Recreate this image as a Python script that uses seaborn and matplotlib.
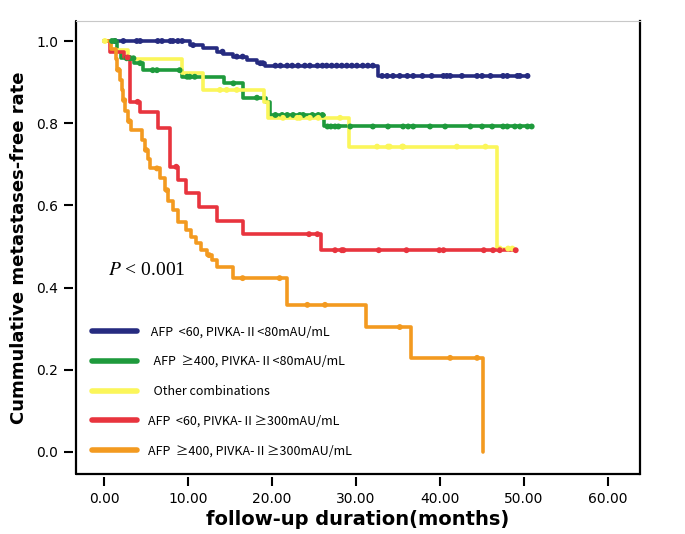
import numpy as np
import pandas as pd
import matplotlib.pyplot as plt
import seaborn as sns
from matplotlib.lines import Line2D

sns.set_style('white')
plt.rcParams['font.family'] = ['DejaVu Sans']
plt.rcParams['mathtext.fontset'] = 'stix'
plt.rcParams.update({'text.color': 'black', 'axes.labelcolor': 'black',
                     'xtick.color': 'black', 'ytick.color': 'black'})

# Kaplan-Meier steps: event times (months), survival after event, censor times
blue_t = [10.2, 11.8, 13.4, 14.2, 15.4, 17.0, 18.2, 19.2, 32.6]
blue_s = [0.990, 0.982, 0.974, 0.968, 0.962, 0.954, 0.946, 0.940, 0.915]
blue_c = [1.3, 2.3, 3.9, 4.3, 6.4, 6.9, 7.9, 8.2, 8.8, 9.3, 10.6, 14.1, 15.8, 16.5, 18.6, 18.9,
          20.4, 21.0, 21.8, 22.4, 23.1, 23.9, 24.5, 25.4, 26.0, 26.5, 27.1, 27.7, 28.3, 28.9,
          29.5, 30.1, 30.8, 31.4, 32.0, 33.1, 33.7, 34.4, 35.2, 36.1, 36.8, 37.9, 39.0, 40.4,
          40.8, 41.2, 42.6, 44.4, 45.0, 46.0, 47.5, 48.0, 49.2, 49.5, 50.4]

green_t = [1.5, 2.0, 3.6, 4.6, 9.3, 14.3, 16.5, 19.3, 19.8, 26.2]
green_s = [0.975, 0.958, 0.946, 0.929, 0.913, 0.897, 0.862, 0.852, 0.820, 0.792]
green_c = [0.95, 1.3, 2.7, 3.1, 3.5, 4.3, 5.8, 6.3, 9.0, 9.9, 10.2, 10.8, 15.4, 18.2,
           20.4, 21.2, 21.8, 22.5, 23.3, 23.7, 24.8, 25.5, 26.0, 26.6, 27.0, 27.5, 27.9,
           29.3, 32.0, 33.8, 35.6, 36.2, 36.8, 38.8, 40.6, 43.6, 45.0, 46.2, 47.5, 48.0,
           48.9, 49.5, 50.4, 50.9]

yellow_t = [0.8, 2.9, 9.3, 11.8, 19.0, 19.5, 29.1, 46.8]
yellow_s = [0.977, 0.955, 0.921, 0.881, 0.852, 0.813, 0.743, 0.495]
yellow_c = [0.1, 13.8, 14.6, 15.8, 21.3, 23.0, 23.3, 24.5, 25.5, 28.1, 32.5, 33.8, 34.0,
            35.5, 35.6, 42.0, 45.4, 47.1, 48.1, 48.6]

red_t = [0.7, 2.4, 3.1, 4.3, 6.4, 7.9, 8.8, 9.8, 11.3, 13.4, 16.5, 25.8]
red_s = [0.973, 0.960, 0.852, 0.828, 0.788, 0.694, 0.662, 0.630, 0.596, 0.561, 0.530, 0.491]
red_c = [2.8, 4.0, 8.6, 24.4, 25.4, 27.5, 28.3, 28.5, 32.7, 36.0, 39.9, 40.4, 45.2, 46.3,
         47.1, 49.0]

orange_t = [0.8, 1.4, 1.6, 1.9, 2.1, 2.3, 2.5, 2.8, 3.2, 4.5, 4.9, 5.2, 5.5, 6.7, 7.3, 7.6,
            8.2, 8.8, 9.8, 10.4, 11.0, 11.6, 12.2, 12.9, 13.4, 15.3, 21.8, 31.2, 36.5, 45.1]
orange_s = [0.980, 0.955, 0.930, 0.905, 0.880, 0.856, 0.830, 0.805, 0.783, 0.759, 0.735,
            0.712, 0.690, 0.667, 0.637, 0.610, 0.589, 0.560, 0.540, 0.523, 0.508, 0.491,
            0.479, 0.467, 0.450, 0.423, 0.358, 0.304, 0.229, 0.0]
orange_c = [1.7, 2.4, 3.0, 5.0, 6.3, 7.5, 12.5, 16.5, 20.9, 24.2, 26.3, 35.2, 41.2, 44.4]

groups = [' AFP  <60, PIVKA-Ⅱ<80mAU/mL', '  AFP  ≥400, PIVKA-Ⅱ<80mAU/mL', '  Other combinations',
          'AFP  <60, PIVKA-Ⅱ≥300mAU/mL', 'AFP  ≥400, PIVKA-Ⅱ≥300mAU/mL']
colors = ['#262b80', '#1e9a3c', '#fbf65a', '#e8343e', '#f39a20']
steps = [(blue_t, blue_s, blue_c), (green_t, green_s, green_c), (yellow_t, yellow_s, yellow_c),
         (red_t, red_s, red_c), (orange_t, orange_s, orange_c)]

lines, marks = [], []
for g, (t, s, c) in zip(groups, steps):
    end = max(max(c), t[-1])
    lines.append(pd.DataFrame({'group': g, 'time': [0] + t + [end], 'surv': [1.0] + s + [s[-1]]}))
    idx = np.searchsorted(t, c, side='right')
    marks.append(pd.DataFrame({'group': g, 'time': c, 'surv': np.r_[1.0, s][idx]}))
lines = pd.concat(lines, ignore_index=True)
marks = pd.concat(marks, ignore_index=True)
pal = dict(zip(groups, colors))

fig = plt.figure(figsize=(6.85, 5.34), dpi=100)
ax = fig.add_axes([0.111, 0.1124, 0.8234, 0.8483])

sns.lineplot(data=lines, x='time', y='surv', hue='group', palette=pal, drawstyle='steps-post',
             estimator=None, sort=False, lw=2.6, legend=False, ax=ax)
sns.scatterplot(data=marks, x='time', y='surv', hue='group', palette=pal, s=18,
                edgecolor='none', legend=False, ax=ax, zorder=3)

ax.set_xlim(-3.33, 63.8)
ax.set_ylim(-0.0535, 1.0487)
ax.set_xticks(np.arange(0, 61, 10))
ax.set_xticklabels([f'{v:.2f}' for v in np.arange(0, 61, 10)], fontsize=11)
ax.set_yticks(np.arange(0, 1.01, 0.2))
ax.set_yticklabels([f'{v:.1f}' for v in np.arange(0, 1.01, 0.2)], fontsize=11)

# SPSS-like frame with detached ticks
for side in ['left', 'bottom']:
    ax.spines[side].set_position(('outward', 2.5))
    ax.spines[side].set_visible(False)
ax.spines['right'].set_linewidth(1.6)
ax.spines['right'].set_color('black')
ax.spines['top'].set_linewidth(0.8)
ax.spines['top'].set_color('#c8c8c8')
ax.plot([0, 0], [0, 1], transform=ax.transAxes, color='black', lw=1.6, clip_on=False)
ax.plot([0, 1], [0, 0], transform=ax.transAxes, color='black', lw=1.6, clip_on=False)
ax.tick_params(axis='both', direction='out', length=6.5, width=1.5, color='black', pad=4)
ax.tick_params(axis='x', bottom=True)
ax.tick_params(axis='y', left=True)

ax.set_xlabel('follow-up duration(months)', fontsize=14, fontweight='bold', labelpad=3)
ax.set_ylabel('Cummulative metastases-free rate', fontsize=13, fontweight='bold', labelpad=6)

ax.text(0.057, 0.450, r'$\it{P}$ < 0.001', transform=ax.transAxes, fontsize=14,
        family='Liberation Serif', va='center')

handles = [Line2D([], [], color=col, lw=4) for col in colors]
leg = ax.legend(handles, groups, loc='lower left', bbox_to_anchor=(0.028, 0.036), frameon=False,
                borderpad=0, borderaxespad=0, handlelength=3.6, handletextpad=0.9,
                labelspacing=1.35, prop={'family': ['Noto Sans CJK KR', 'DejaVu Sans'], 'size': 9})

fig.savefig('out.png', dpi=100)
